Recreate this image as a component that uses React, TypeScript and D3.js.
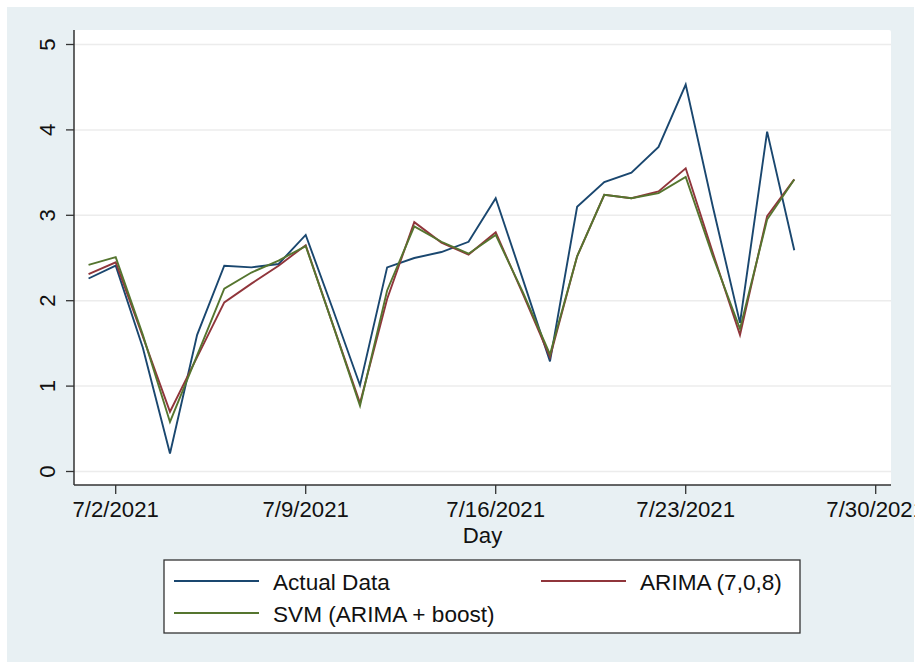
import React, { useEffect, useRef } from 'react';
import * as d3 from 'd3';

// days 7/1/2021 .. 7/27/2021
const days = d3.range(1, 28).map((d) => new Date(Date.UTC(2021, 6, d)));

const actual = [2.26, 2.41, 1.45, 0.21, 1.6, 2.41, 2.39, 2.43, 2.77, 1.9, 1.01, 2.39, 2.5, 2.57, 2.69, 3.2, 2.25, 1.29, 3.1, 3.39, 3.5, 3.8, 4.53, 3.1, 1.74, 3.98, 2.59];
const arima = [2.31, 2.45, 1.58, 0.7, 1.34, 1.98, 2.2, 2.41, 2.65, 1.72, 0.8, 2.02, 2.92, 2.68, 2.54, 2.8, 2.08, 1.34, 2.52, 3.24, 3.2, 3.28, 3.55, 2.56, 1.6, 2.99, 3.42];
const svm = [2.42, 2.51, 1.6, 0.58, 1.36, 2.14, 2.33, 2.47, 2.64, 1.72, 0.77, 2.12, 2.87, 2.69, 2.55, 2.77, 2.1, 1.37, 2.52, 3.24, 3.2, 3.26, 3.45, 2.52, 1.67, 2.95, 3.42];

const yTicks = [0, 1, 2, 3, 4, 5];
const xTicks = [2, 9, 16, 23, 30].map((d) => new Date(Date.UTC(2021, 6, d)));
const xTickLabels = ['7/2/2021', '7/9/2021', '7/16/2021', '7/23/2021', '7/30/2021'];

const series = [
  { name: 'Actual Data', values: actual, color: '#1a476f' },
  { name: 'ARIMA (7,0,8)', values: arima, color: '#90353b' },
  { name: 'SVM (ARIMA + boost)', values: svm, color: '#55752f' },
];

const W = 915;
const H = 662;
const font = '"Liberation Sans", Arial, sans-serif';
const fs = 22.2;

export default function App() {
  const ref = useRef<SVGSVGElement>(null);

  useEffect(() => {
    const svg = d3.select(ref.current);
    svg.selectAll('*').remove();

    // graph region
    svg.append('rect').attr('x', 7).attr('y', 7).attr('width', 907).attr('height', 655).attr('fill', '#e8f0f3');
    // plot region
    const left = 74, right = 891, top = 30, bottom = 485;
    svg.append('rect').attr('x', left).attr('y', top).attr('width', right - left).attr('height', bottom - top)
      .attr('fill', '#ffffff').attr('rx', 2);

    const x = d3.scaleUtc()
      .domain([xTicks[0], xTicks[xTicks.length - 1]])
      .range([115.7, 875.7]);
    const y = d3.scaleLinear().domain([0, 5]).range([471.5, 44.5]);

    // grid
    svg.append('g').selectAll('line').data(yTicks).enter().append('line')
      .attr('x1', left).attr('x2', right)
      .attr('y1', (d) => y(d)).attr('y2', (d) => y(d))
      .attr('stroke', '#ececec').attr('stroke-width', 1.5);

    // lines
    const line = d3.line<number>()
      .x((_, i) => x(days[i]))
      .y((d) => y(d));
    series.forEach((s) => {
      svg.append('path').datum(s.values)
        .attr('d', line)
        .attr('fill', 'none')
        .attr('stroke', s.color)
        .attr('stroke-width', 1.9)
        .attr('stroke-linejoin', 'miter');
    });

    // y axis
    const yAxis = svg.append('g');
    yAxis.append('line').attr('x1', left).attr('x2', left).attr('y1', top).attr('y2', bottom)
      .attr('stroke', '#333').attr('stroke-width', 1.5);
    yTicks.forEach((t) => {
      yAxis.append('line').attr('x1', 66).attr('x2', left).attr('y1', y(t)).attr('y2', y(t))
        .attr('stroke', '#333').attr('stroke-width', 1.3);
      yAxis.append('text')
        .attr('transform', `translate(55, ${y(t)}) rotate(-90)`)
        .attr('text-anchor', 'middle')
        .attr('font-family', font).attr('font-size', fs).attr('fill', '#111')
        .text(t);
    });

    // x axis
    const xAxis = svg.append('g');
    xAxis.append('line').attr('x1', left).attr('x2', right).attr('y1', bottom).attr('y2', bottom)
      .attr('stroke', '#333').attr('stroke-width', 1.5);
    xTicks.forEach((t, i) => {
      xAxis.append('line').attr('x1', x(t)).attr('x2', x(t)).attr('y1', bottom).attr('y2', 494)
        .attr('stroke', '#333').attr('stroke-width', 1.3);
      xAxis.append('text')
        .attr('x', x(t)).attr('y', 517)
        .attr('text-anchor', 'middle')
        .attr('font-family', font).attr('font-size', fs).attr('fill', '#111')
        .text(xTickLabels[i]);
    });
    xAxis.append('text')
      .attr('x', (left + right) / 2).attr('y', 543)
      .attr('text-anchor', 'middle')
      .attr('font-family', font).attr('font-size', fs).attr('fill', '#111')
      .text('Day');

    // legend
    const lg = svg.append('g');
    lg.append('rect').attr('x', 164).attr('y', 560).attr('width', 636).attr('height', 73)
      .attr('fill', '#fff').attr('stroke', '#333').attr('stroke-width', 1.3);
    const slots = [
      { x1: 174, x2: 259, tx: 273, y: 581 },
      { x1: 541, x2: 626, tx: 640, y: 581 },
      { x1: 174, x2: 259, tx: 273, y: 613 },
    ];
    series.forEach((s, i) => {
      const p = slots[i];
      lg.append('line').attr('x1', p.x1).attr('x2', p.x2).attr('y1', p.y).attr('y2', p.y)
        .attr('stroke', s.color).attr('stroke-width', 1.8);
      lg.append('text').attr('x', p.tx).attr('y', p.y + 8.5)
        .attr('font-family', font).attr('font-size', 22.6).attr('fill', '#111')
        .text(s.name);
    });
  }, []);

  return (
    <svg ref={ref} width={W} height={H} style={{ position: 'absolute', left: 0, top: 0 }} />
  );
}
